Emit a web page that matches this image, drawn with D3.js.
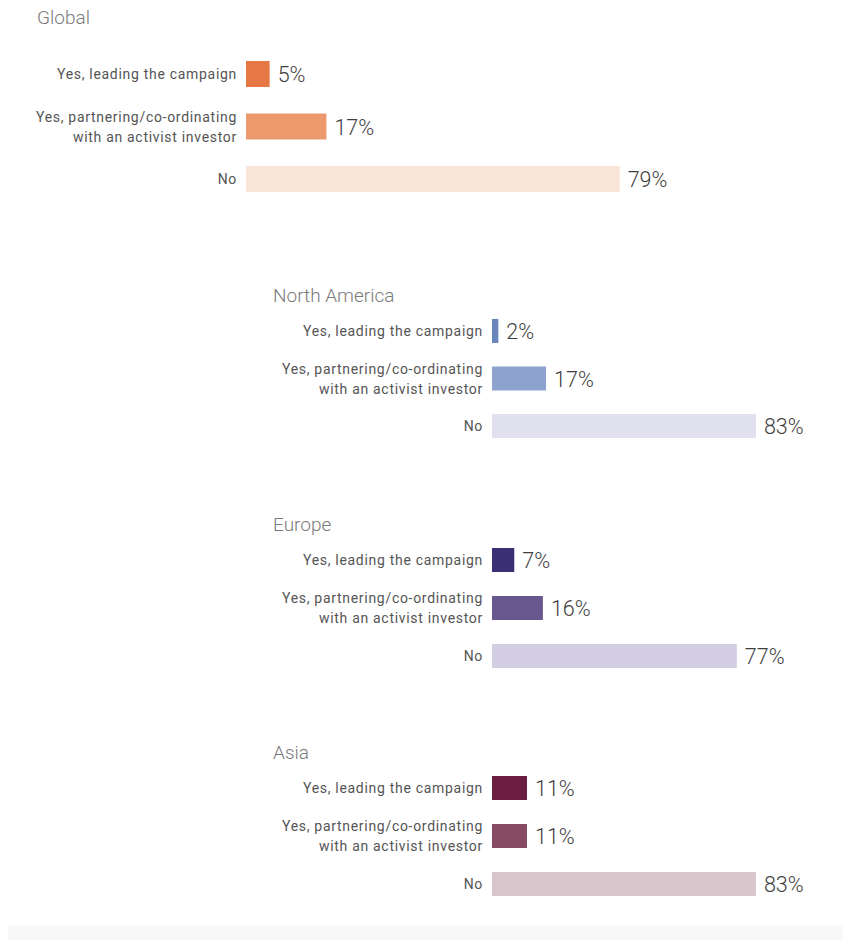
<!DOCTYPE html>
<html>
<head>
<meta charset="utf-8">
<script src="https://cdn.jsdelivr.net/npm/d3@7"></script>
<style>
  body { margin: 0; background: #fff; }
  svg { display: block; }
  .title { font: 300 19px Roboto, sans-serif; fill: #7a7a7a; }
  .label { font: 14px Roboto, sans-serif; fill: #555; letter-spacing: 0.7px; }
  .value { font: 300 21.5px Roboto, sans-serif; fill: #3e3e3e; }
</style>
</head>
<body>
<svg width="843" height="940"></svg>
<script>
// data
const regions = ["Global", "North America", "Europe", "Asia"];
const answers = ["Yes, leading the campaign", "Yes, partnering/co-ordinating\nwith an activist investor", "No"];
const globalValues = [5, 17, 79];
const northAmericaValues = [2, 17, 83];
const europeValues = [7, 16, 77];
const asiaValues = [11, 11, 83];
const globalColors = ["#e67845", "#ec9a6d", "#f9e5d8"];
const northAmericaColors = ["#6a86bc", "#8da2cf", "#e1e0ef"];
const europeColors = ["#3a2f74", "#69578f", "#d3cee3"];
const asiaColors = ["#6a1d41", "#864b63", "#d8c6cc"];

const seriesValues = [globalValues, northAmericaValues, europeValues, asiaValues];
const seriesColors = [globalColors, northAmericaColors, europeColors, asiaColors];

// layout for each panel
const panels = [
    { titleX: 37, titleY: 24, x0: 246, full: 473, top: 74, bottom: 179, barH: 26 },
    { titleX: 273, titleY: 302, x0: 492, full: 318, top: 331, bottom: 426, barH: 24 },
    { titleX: 273, titleY: 531, x0: 492, full: 318, top: 560, bottom: 656, barH: 24 },
    { titleX: 273, titleY: 759, x0: 492, full: 318, top: 788, bottom: 884, barH: 24 }
];

const svg = d3.select("svg");

// footer band
svg.append("rect")
    .attr("x", 8).attr("y", 925)
    .attr("width", 835).attr("height", 15)
    .attr("fill", "#f8f8f8");

regions.forEach((region, i) => {
    const p = panels[i];
    const values = seriesValues[i];
    const colors = seriesColors[i];

    const x = d3.scaleLinear().domain([0, 100]).range([p.x0, p.x0 + p.full]);
    const y = d3.scalePoint().domain(answers).range([p.top, p.bottom]);
    const color = d3.scaleOrdinal().domain(answers).range(colors);

    const g = svg.append("g").attr("class", "panel");

    g.append("text")
        .attr("class", "title")
        .attr("x", p.titleX)
        .attr("y", p.titleY)
        .text(region);

    const rows = answers.map((a, j) => ({ answer: a, value: values[j] }));

    g.selectAll("rect.bar")
        .data(rows)
        .join("rect")
        .attr("class", "bar")
        .attr("x", x(0))
        .attr("y", d => y(d.answer) - p.barH / 2)
        .attr("width", d => x(d.value) - x(0))
        .attr("height", p.barH)
        .attr("fill", d => color(d.answer));

    g.selectAll("text.value")
        .data(rows)
        .join("text")
        .attr("class", "value")
        .attr("x", d => x(d.value) + 8)
        .attr("y", d => y(d.answer) + 8)
        .text(d => d.value + "%");

    const labels = g.selectAll("text.label")
        .data(rows)
        .join("text")
        .attr("class", "label")
        .attr("text-anchor", "end")
        .attr("x", x(0) - 9)
        .attr("y", d => y(d.answer));

    labels.each(function(d) {
        const lines = d.answer.split("\n");
        const t = d3.select(this);
        lines.forEach((line, k) => {
            t.append("tspan")
                .attr("x", x(0) - 9)
                .attr("y", y(d.answer) + 5 + (k - (lines.length - 1) / 2) * 20)
                .text(line);
        });
    });
});
</script>
</body>
</html>
